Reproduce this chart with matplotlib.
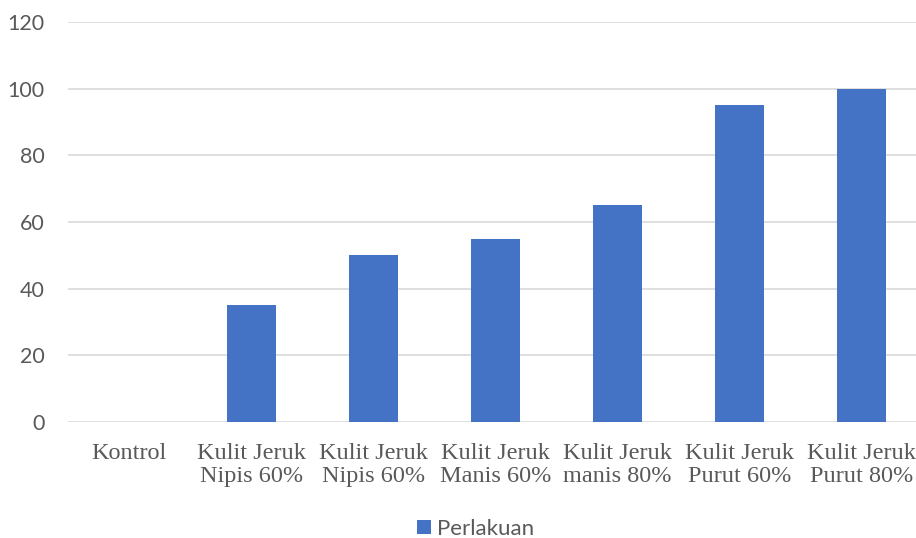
import matplotlib
matplotlib.use("Agg")
import matplotlib.pyplot as plt
from matplotlib.patches import Patch

categories = ["Kontrol", "Kulit Jeruk\nNipis 60%", "Kulit Jeruk\nNipis 60%", "Kulit Jeruk\nManis 60%",
              "Kulit Jeruk\nmanis 80%", "Kulit Jeruk\nPurut 60%", "Kulit Jeruk\nPurut 80%"]
values = [0, 35, 50, 55, 65, 95, 100]
yticks = [0, 20, 40, 60, 80, 100, 120]
series_name = "Perlakuan"

bar_color = "#4472C4"
text_color = "#595959"

fig = plt.figure(figsize=(9.16, 5.38), dpi=100)
ax = fig.add_axes([68/916, 1 - 422/538, 855/916, 400/538])

x = list(range(len(categories)))
ax.bar(x, values, width=0.4, color=bar_color, zorder=3)
ax.set_xlim(-0.5, len(categories) - 0.5)
ax.set_ylim(0, 120)
ax.set_yticks(yticks)
ax.set_yticklabels([str(v) for v in yticks], fontfamily="Lato", fontsize=15.5, color=text_color)
ax.set_xticks(x)
ax.set_xticklabels(categories, fontfamily="Liberation Serif", fontsize=17.5, color=text_color,
                   linespacing=1.12)
ax.tick_params(axis="both", length=0)
ax.tick_params(axis="y", pad=17)
ax.tick_params(axis="x", pad=15)
ax.grid(axis="y", color="#D9D9D9", linewidth=1.2, zorder=0)
for s in ax.spines.values():
    s.set_visible(False)

handle = Patch(facecolor=bar_color, label=series_name)
fig.legend(handles=[handle], loc="center", bbox_to_anchor=(476/916, 1 - 529/538), frameon=False,
           prop={"family": "Lato", "size": 16}, labelcolor=text_color, handlelength=0.6,
           handleheight=0.6, handletextpad=0.3)

fig.savefig("out.png", dpi=100)
